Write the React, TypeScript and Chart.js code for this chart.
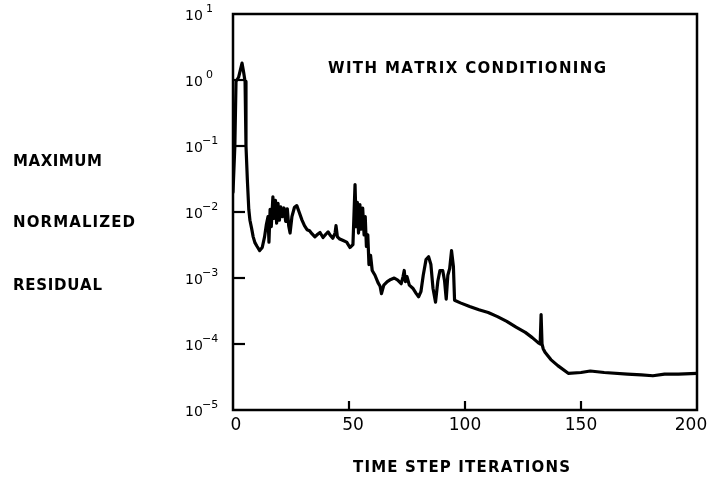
import React, { useEffect, useRef } from "react";
import { Chart, registerables } from "chart.js";

Chart.register(...registerables);

const iterations = [
  0, 0.8, 1.3, 2.4, 3.9, 4.6, 5.2, 5.6, 6.2, 6.8, 7.3, 8.0, 8.7, 9.5, 10.4, 11.5, 12.6, 13.6, 14.4,
  15.1, 15.5, 16.0, 16.5, 17.2, 17.7, 18.3, 18.8, 19.4, 20.0, 20.6, 21.3, 22.0, 22.7, 23.4, 24.0,
  24.6, 25.4, 26.5, 27.5, 28.5, 29.7, 30.8, 31.9, 33.0, 34.0, 35.3, 36.5, 37.5, 38.8, 40.0, 41.0,
  42.0, 43.0, 44.0, 44.4, 45.0, 46.0, 47.5, 49.0, 50.4, 51.7, 52.6, 53.1, 53.6, 54.1, 54.7, 55.3,
  55.9, 56.5, 57.0, 57.5, 58.1, 58.6, 59.3, 60.0, 61.2, 62.5, 63.4, 64.0, 65.0, 66.5, 68.0, 69.5,
  71.0, 72.5, 73.3, 73.8, 74.3, 75.0, 76.0, 77.5, 79.0, 80.0, 81.0, 82.0, 83.2, 84.3, 85.3, 86.2,
  87.3, 88.3, 89.2, 90.4, 91.2, 91.9, 92.6, 93.4, 94.2, 95.0, 95.5, 98.0, 102.0, 106.0, 110.0,
  114.0, 118.0, 122.0, 126.0, 129.0, 131.5, 132.4, 132.8, 133.2, 133.7, 134.5, 137.0, 140.0, 144.5,
  150.0, 154.0, 160.0, 170.0, 176.0, 181.0, 186.0, 192.0, 200.0,
];

const residuals = [
  0.02, 0.1, 0.95, 1.1, 1.8, 1.3, 0.95, 0.1, 0.03, 0.011, 0.0075, 0.0057, 0.0042, 0.0034, 0.003,
  0.0026, 0.0029, 0.0042, 0.0065,
  0.0085, 0.0035, 0.011, 0.006, 0.017, 0.008, 0.015, 0.0068, 0.0135, 0.0075, 0.012, 0.0085, 0.0115,
  0.0072, 0.0112, 0.0062,
  0.0048, 0.0085, 0.0118, 0.0125, 0.01, 0.0076, 0.0062, 0.0054, 0.0052, 0.0047, 0.0042, 0.0046,
  0.0049, 0.0041, 0.0046, 0.005,
  0.0044, 0.004, 0.0048, 0.0062, 0.0042, 0.0039, 0.0037, 0.0035, 0.0029, 0.0032, 0.026, 0.006, 0.014,
  0.0048, 0.013, 0.0055,
  0.0115, 0.0045, 0.0085, 0.003, 0.0045, 0.0016, 0.0022, 0.0013, 0.0011, 0.00085, 0.00075, 0.00058,
  0.00078, 0.00088, 0.00095, 0.001,
  0.00093, 0.00082, 0.00105, 0.0013, 0.00088, 0.00105, 0.00078, 0.0007, 0.00058, 0.00052, 0.00062,
  0.0011, 0.0019, 0.0021, 0.0016, 0.0007,
  0.00043, 0.0009, 0.0013, 0.0013, 0.0009, 0.00048, 0.0011, 0.0014, 0.0026, 0.0015, 0.00046,
  0.00042, 0.00037, 0.00033, 0.0003,
  0.00026, 0.00022, 0.00018, 0.00015, 0.000125, 0.000105, 0.0001, 0.00028, 0.0001, 0.000085,
  0.000075, 0.000058, 0.000047, 0.000036,
  0.000037, 0.000039, 0.000037, 0.000035, 0.000034, 0.000033, 0.000035, 0.000035, 0.000036,
];

const xTickValues = [0, 50, 100, 150, 200];
const xInnerTicks = [50, 100, 150];
const yExponents = [1, 0, -1, -2, -3, -4, -5];
const sideLabels = ["MAXIMUM", "NORMALIZED", "RESIDUAL"];
const chartTitle = "WITH MATRIX CONDITIONING";
const xAxisTitle = "TIME STEP ITERATIONS";

const LETTER_FONT = "bold 15px 'DejaVu Sans'";

function drawSpaced(ctx: CanvasRenderingContext2D, text: string, left: number, cy: number, target: number) {
  const chars = Array.from(text);
  const widths = chars.map((c) => ctx.measureText(c).width);
  const total = widths.reduce((a, b) => a + b, 0);
  const gap = chars.length > 1 ? (target - total) / (chars.length - 1) : 0;
  ctx.textAlign = "left";
  ctx.textBaseline = "middle";
  let x = left;
  chars.forEach((c, i) => {
    ctx.fillText(c, x, cy);
    x += widths[i] + gap;
  });
}

const decorPlugin = {
  id: "decor",
  afterDraw(chart: any) {
    const ctx: CanvasRenderingContext2D = chart.ctx;
    const area = chart.chartArea;
    const xs = chart.scales.x;
    const ys = chart.scales.y;
    ctx.save();
    ctx.strokeStyle = "#000";
    ctx.fillStyle = "#000";
    ctx.lineWidth = 2.5;
    ctx.lineJoin = "miter";
    ctx.strokeRect(area.left, area.top, area.right - area.left, area.bottom - area.top);

    // inward ticks
    ctx.lineWidth = 2.2;
    yExponents.forEach((e) => {
      if (e === 1 || e === -5) return;
      const y = ys.getPixelForValue(Math.pow(10, e));
      ctx.beginPath();
      ctx.moveTo(area.left, y);
      ctx.lineTo(area.left + 12, y);
      ctx.stroke();
    });
    xInnerTicks.forEach((v) => {
      const x = xs.getPixelForValue(v);
      ctx.beginPath();
      ctx.moveTo(x, area.bottom);
      ctx.lineTo(x, area.bottom - 9);
      ctx.stroke();
    });

    // y tick labels: 10 with superscript exponent
    yExponents.forEach((e) => {
      const y = ys.getPixelForValue(Math.pow(10, e));
      ctx.font = "14px 'DejaVu Sans'";
      ctx.textAlign = "left";
      ctx.textBaseline = "middle";
      ctx.fillText("10", 185, y + 2);
      ctx.font = "11px 'DejaVu Sans'";
      const sup = e < 0 ? "\u2212" + Math.abs(e) : String(e);
      ctx.fillText(sup, e < 0 ? 202 : 206, y - 5);
    });

    // x tick labels
    ctx.font = "17px 'DejaVu Sans'";
    ctx.textAlign = "center";
    ctx.textBaseline = "middle";
    xTickValues.forEach((v) => {
      let x = xs.getPixelForValue(v);
      if (v === 0) x += 3;
      if (v === 200) x -= 6;
      if (v === 50) x += 4;
      ctx.fillText(String(v), x, 426);
    });

    ctx.font = LETTER_FONT;
    drawSpaced(ctx, xAxisTitle, 353, 468, 217);
    drawSpaced(ctx, chartTitle, 328, 69, 278);
    drawSpaced(ctx, sideLabels[0], 13, 162, 89);
    drawSpaced(ctx, sideLabels[1], 13, 223, 122);
    drawSpaced(ctx, sideLabels[2], 13, 286, 89);
    ctx.restore();
  },
};

export default function App() {
  const ref = useRef<HTMLCanvasElement | null>(null);
  useEffect(() => {
    if (!ref.current) return;
    const chart = new Chart(ref.current, {
      type: "line",
      data: {
        datasets: [
          {
            data: iterations.map((x, i) => ({ x, y: residuals[i] })),
            borderColor: "#000",
            borderWidth: 3.2,
            pointRadius: 0,
            tension: 0,
            fill: false,
            borderJoinStyle: "round",
            borderCapStyle: "round",
          },
        ],
      },
      options: {
        animation: false,
        responsive: false,
        maintainAspectRatio: false,
        layout: { padding: { left: 233, right: 19, top: 14, bottom: 70 } },
        plugins: { legend: { display: false }, tooltip: { enabled: false }, title: { display: false } },
        scales: {
          x: { type: "linear", min: 0, max: 200, display: false },
          y: { type: "logarithmic", min: 1e-5, max: 10, display: false },
        },
      },
      plugins: [decorPlugin],
    } as any);
    return () => chart.destroy();
  }, []);
  return (
    <div style={{ position: "fixed", left: 0, top: 0, width: 716, height: 480, background: "#fff" }}>
      <canvas ref={ref} width={716} height={480} style={{ width: 716, height: 480, display: "block" }} />
    </div>
  );
}
